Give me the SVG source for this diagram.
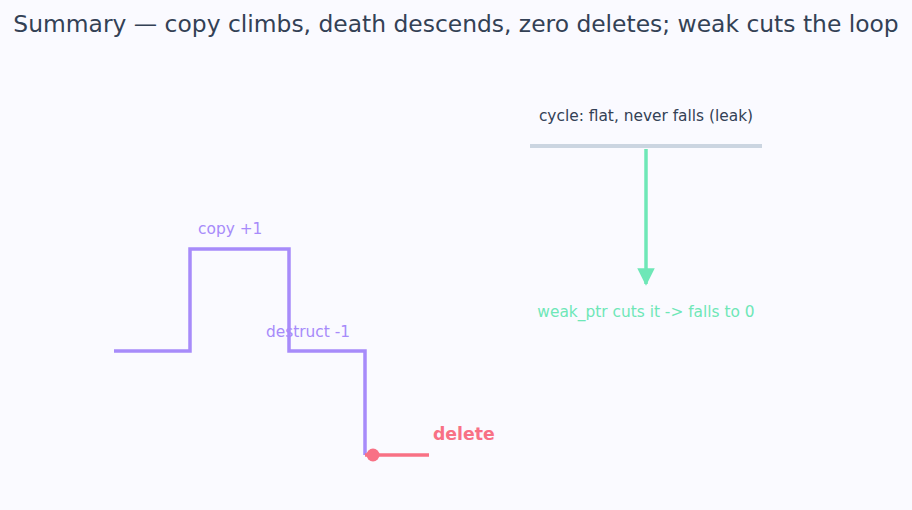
<svg xmlns="http://www.w3.org/2000/svg" width="912" height="510" viewBox="0 0 912 510">
<style>
text{font-family:"DejaVu Sans",Verdana,sans-serif}
.title{font-size:23.4px;fill:#334155}
.lab{font-size:15.4px}
.purple{fill:#a78bfa}
.green{fill:#6ee7b7}
.dark{fill:#334155}
</style>
<defs>
<marker id="ah" viewBox="0 0 10 10" refX="9" refY="5" markerWidth="5" markerHeight="5" orient="auto" markerUnits="strokeWidth">
<path d="M0,0 L10,5 L0,10 z" fill="#6ee7b7"/>
</marker>
</defs>
<rect width="912" height="510" fill="#fafaff"/>
<text class="title" x="456" y="32" text-anchor="middle">Summary — copy climbs, death descends, zero deletes; weak cuts the loop</text>
<g id="connectors">
<path d="M114,351 H190 V249 H289 V351 H365 V455" fill="none" stroke="#a78bfa" stroke-width="3.5"/>
<line x1="365" y1="455" x2="429" y2="455" stroke="#f87185" stroke-width="3.5"/>
<line x1="530" y1="146" x2="762" y2="146" stroke="#cbd5e1" stroke-width="4"/>
<line x1="646" y1="149" x2="646" y2="284" stroke="#6ee7b7" stroke-width="3.5" marker-end="url(#ah)"/>
</g>
<g id="copy"><text class="lab purple" x="198" y="234">copy +1</text></g>
<g id="destruct"><text class="lab purple" x="266" y="337">destruct -1</text></g>
<g id="delete">
<circle cx="373" cy="455" r="6.5" fill="#f87185"/>
<text x="433" y="440" font-size="17.3" font-weight="bold" fill="#f87185">delete</text>
</g>
<g id="cycle"><text class="lab dark" x="646" y="121" text-anchor="middle">cycle: flat, never falls (leak)</text></g>
<g id="weak"><text class="lab green" x="646" y="317" text-anchor="middle">weak_ptr cuts it -&gt; falls to 0</text></g>
</svg>
